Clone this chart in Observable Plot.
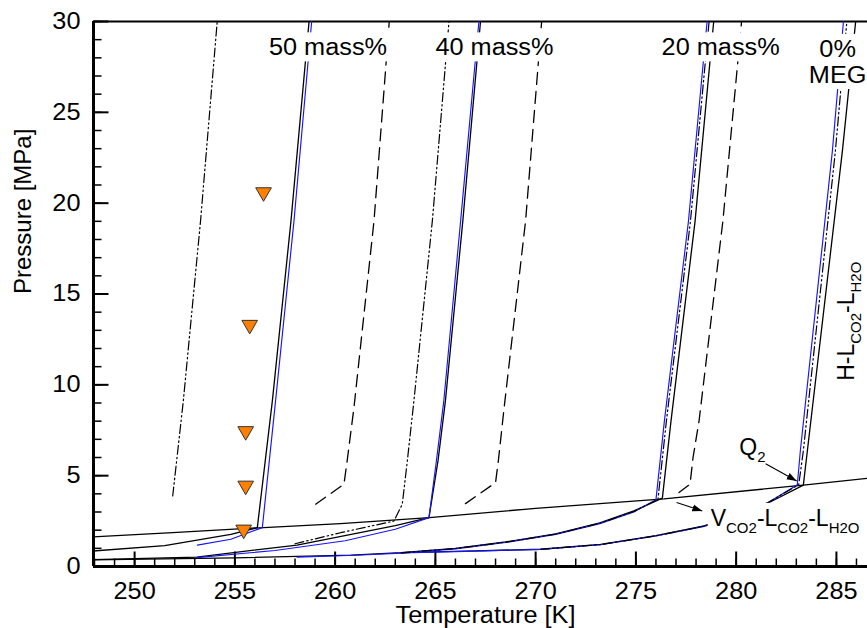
<!DOCTYPE html>
<html>
<head>
<meta charset="utf-8">
<script src="https://cdn.jsdelivr.net/npm/d3@7"></script>
<script src="https://cdn.jsdelivr.net/npm/@observablehq/plot@0.6"></script>
<style>
  html, body { margin: 0; padding: 0; background: #fff; }
  #chart svg { display: block; }
</style>
</head>
<body>
<div id="chart"></div>
<script>
// ---- axes ----
const xDomain = [247.95, 286.55];
const yDomain = [0, 30];
const xMajor = [250, 255, 260, 265, 270, 275, 280, 285];
const xMinor = d3.range(248, 287, 1);
const yMajor = [0, 5, 10, 15, 20, 25, 30];
const yMinor = d3.range(0, 31, 1);

// ---- CO2 three-phase line V(CO2)-L(CO2)-L(H2O), [T K, P MPa] ----
const vll = [[247.9,1.63],[251.9,1.86],[256.2,2.13],[260.27,2.36],[264.7,2.69],[270,3.2],[276.4,3.72],[283.35,4.48],[286.6,4.86]];

// ---- hydrate equilibrium, model A (black solid) ----
const black50 = [[247.9,0.85],[251.5,1.15],[254.8,1.77],[256.12,2.14],[256.87,9.12],[257.8,19.04],[258.7,30]];
const black40 = [[247.9,0.38],[253.1,0.52],[258.1,1.18],[260.8,1.77],[263,2.25],[264.68,2.69],[265.13,5.81],[265.5,9.12],[266.37,19.04],[267.25,30]];
const black20 = [[247.9,0.36],[255,0.48],[260.8,0.63],[263.3,0.76],[266,1.0],[268.5,1.35],[271,1.8],[273.2,2.4],[274.9,3.06],[276.32,3.76],[276.75,8.0],[277.95,19.0],[278.88,30]];
const black0  = [[263.3,0.76],[267,0.86],[270.25,0.95],[273.24,1.22],[276,1.7],[278.4,2.23],[280,2.8],[281.7,3.55],[283.35,4.48],[283.55,6.36],[285.3,22.89],[285.96,30]];

// ---- model B (blue solid) ----
const blue50 = [[253.13,1.18],[254.8,1.5],[256.37,2.14],[257.03,9.12],[257.95,19.04],[258.83,30]];
const blue40 = [[253.1,0.49],[257,0.88],[260.5,1.42],[263,2.05],[264.68,2.69],[265.05,5.81],[265.42,9.12],[266.26,19.04],[267.17,30]];
const blue20 = [[258.1,0.52],[261,0.62],[263.3,0.74],[266,0.97],[268.5,1.32],[271,1.76],[273.2,2.36],[274.9,3.0],[276.0,3.68],[276.42,8.0],[277.62,19.0],[278.55,30]];
const blue0  = [[263.3,0.75],[267,0.85],[270.25,0.94],[273.24,1.2],[276,1.68],[278.4,2.2],[280,2.75],[281.5,3.45],[283.05,4.5],[283.2,6.36],[284.8,22.89],[285.35,30]];

// ---- model C (dash-dot-dot) ----
const dashdot50 = [[251.9,3.88],[252.43,9.12],[253.29,19.04],[254.12,30]];
const dashdot40 = [[258,1.25],[260.27,1.86],[262.93,2.5],[263.35,3.43],[263.6,5.81],[263.93,9.12],[264.85,19.04],[265.68,30]];
const dashdot20 = [[263.3,0.75],[266,0.99],[268.5,1.34],[271,1.78],[273.2,2.38],[274.9,3.03],[276.1,3.7],[276.52,8.0],[277.72,19.0],[278.65,30]];
const dashdot0  = [[270.25,0.95],[273.24,1.21],[276,1.69],[278.4,2.22],[280,2.78],[281.55,3.5],[283.12,4.5],[283.35,6.36],[284.95,22.89],[285.52,30]];

// ---- model D (dashed) ----
const dashed50 = [[259.03,3.43],[260.44,4.53],[260.6,5.81],[260.94,8.75],[261.94,19.04],[262.7,30]];
const dashed40 = [[266.5,3.46],[268.0,4.62],[268.14,5.81],[268.42,8.66],[269.5,19.04],[270.3,30]];
const dashed20 = [[277.15,4.07],[277.7,4.53],[277.85,6.0],[278.15,8.02],[279.34,19.04],[280.27,30]];

// ---- experimental points, 50 mass% MEG ----
const expT = [256.43, 255.74, 255.54, 255.54, 255.44];
const expP = [20.6, 13.3, 7.45, 4.45, 2.03];

// ---- annotations ----
const massLabels = ["50 mass%", "40 mass%", "20 mass%"];
const massLabelT = [256.7, 265.0, 276.28];
const massLabelP = [28.54, 28.54, 28.54];
const megLabels = ["0%", "MEG"];
const megLabelT = [285.06, 285.06];
const megLabelP = [28.46, 27.02];
const phaseLabels = ["V_{CO2}-L_{CO2}-L_{H2O}", "Q_{2}"];
const phaseLabelT = [278.73, 280.16];
const phaseLabelP = [2.64, 6.56];
const hllLabel = ["H-L_{CO2}-L_{H2O}"];
const hllLabelT = [285.51];
const hllLabelP = [10.22];
const arrowFrom = [[281.47, 5.66], [277.03, 3.52]];
const arrowTo = [[283.02, 4.71], [278.31, 3.06]];

const FONT = "'Liberation Sans', Arial, Helvetica, sans-serif";
const FS = 23;
const W = 867, H = 628, ML = 93, MR = 0, MT = 21, MB = 62;
const frameW = W - ML - MR, frameH = H - MT - MB;
// tick lengths in pixels, expressed in each axis' units
const kx = (xDomain[1] - xDomain[0]) / frameW;
const ky = (yDomain[1] - yDomain[0]) / frameH;

const styles = {
  black: {stroke: "#000", strokeWidth: 1.3},
  blue: {stroke: "#1414ff", strokeWidth: 1.15},
  dashdot: {stroke: "#000", strokeWidth: 1.2, strokeDasharray: "9,3,1.5,3,1.5,3"},
  dashed: {stroke: "#000", strokeWidth: 1.3, strokeDasharray: "12,7"}
};
const curve = (pts, style) => Plot.line(pts, {x: d => d[0], y: d => d[1], clip: true, ...styles[style]});

// inward tick segments
const xTicks = (values, len, sw) => Plot.link(values, {
  x1: d => d, x2: d => d, y1: () => yDomain[0], y2: () => yDomain[0] + len * ky,
  stroke: "#000", strokeWidth: sw
});
const yTicks = (values, len, sw) => Plot.link(values, {
  y1: d => d, y2: d => d, x1: () => xDomain[0], x2: () => xDomain[0] + len * kx,
  stroke: "#000", strokeWidth: sw
});

const svg = Plot.plot({
  width: W,
  height: H,
  marginLeft: ML,
  marginRight: MR,
  marginTop: MT,
  marginBottom: MB,
  x: {domain: xDomain},
  y: {domain: yDomain},
  style: {fontFamily: FONT, fontSize: FS + "px", background: "white", color: "black", overflow: "visible"},
  marks: [
    // frame: thick left and bottom axes, top border
    Plot.ruleY([yDomain[1]], {strokeWidth: 2.2}),
    Plot.ruleY([yDomain[0]], {strokeWidth: 3}),
    Plot.ruleX([xDomain[0]], {strokeWidth: 3}),

    xTicks(xMinor, 8, 1.5),
    xTicks(xMajor, 15, 2),
    yTicks(yMinor, 8, 1.5),
    yTicks(yMajor, 15, 2),
    Plot.axisX(xMajor, {tickSize: 0, tickPadding: 16, label: null}),
    Plot.axisY(yMajor, {tickSize: 0, tickPadding: 13, label: null}),

    curve(vll, "black"),
    curve(black50, "black"), curve(black40, "black"), curve(black20, "black"), curve(black0, "black"),
    curve(blue50, "blue"), curve(blue40, "blue"), curve(blue20, "blue"), curve(blue0, "blue"),
    curve(dashdot50, "dashdot"), curve(dashdot40, "dashdot"), curve(dashdot20, "dashdot"), curve(dashdot0, "dashdot"),
    curve(dashed50, "dashed"), curve(dashed40, "dashed"), curve(dashed20, "dashed"),

    Plot.dot(expT.map((t, i) => [t, expP[i]]), {
      x: d => d[0], y: d => d[1], symbol: "triangle", rotate: 180, r: 5.8,
      fill: "#ff8000", stroke: "#333", strokeWidth: 1
    }),

    Plot.link(arrowFrom.map((f, i) => [f, arrowTo[i]]), {
      x1: d => d[0][0], y1: d => d[0][1], x2: d => d[1][0], y2: d => d[1][1],
      stroke: "#000", strokeWidth: 1.1, markerEnd: "arrow"
    }),

    Plot.text(massLabels, {x: (d, i) => massLabelT[i], y: (d, i) => massLabelP[i], text: d => d, textAnchor: "start", lineAnchor: "middle"}),
    Plot.text(megLabels, {x: (d, i) => megLabelT[i], y: (d, i) => megLabelP[i], text: d => d, textAnchor: "middle", lineAnchor: "middle"}),
    Plot.text(phaseLabels, {x: (d, i) => phaseLabelT[i], y: (d, i) => phaseLabelP[i], text: d => d, textAnchor: "start", lineAnchor: "middle"}),
    Plot.text(hllLabel, {x: (d, i) => hllLabelT[i], y: (d, i) => hllLabelP[i], text: d => d, textAnchor: "start", lineAnchor: "middle", rotate: -90}),

    // axis titles
    Plot.text(["Temperature [K]"], {frameAnchor: "bottom", dx: 5, dy: 40, lineAnchor: "top"}),
    Plot.text(["Pressure [MPa]"], {frameAnchor: "left", dx: -70, rotate: -90, lineAnchor: "middle", fontSize: 24})
  ]
});

document.getElementById("chart").appendChild(svg);

// horizontal lettering is set slightly wide
const wide = new Set(["50 mass%", "40 mass%", "20 mass%", "0%", "MEG", "Temperature [K]", ...xMajor.map(String), ...yMajor.map(String)]);
d3.select(svg).selectAll("text").each(function () {
  if (!wide.has(this.textContent) || this.querySelector("tspan")) return;
  const len = this.getComputedTextLength();
  this.setAttribute("textLength", (len * 1.1).toFixed(2));
  this.setAttribute("lengthAdjust", "spacingAndGlyphs");
});

// subscripts: "_{...}" becomes a lowered, smaller tspan
const boxed = new Set(["50 mass%", "40 mass%", "20 mass%", "0%", "MEG", "V_{CO2}-L_{CO2}-L_{H2O}"]);
const boxNodes = [];
d3.select(svg).selectAll("text").each(function () {
  const s = this.textContent;
  if (boxed.has(s)) boxNodes.push(this);
  if (!s.includes("_{")) return;
  const parts = s.split(/(_\{[^}]*\})/).filter(p => p);
  const t = d3.select(this);
  t.text(null);
  let sub = false;
  for (const p of parts) {
    if (p.startsWith("_{")) {
      t.append("tspan").attr("font-size", 15).attr("dy", sub ? 0 : 7).text(p.slice(2, -1));
      sub = true;
    } else {
      t.append("tspan").attr("dy", sub ? -7 : 0).text(p);
      sub = false;
    }
  }
});

// white boxes behind in-plot labels
for (const node of boxNodes) {
  const b = node.getBBox();
  const r = document.createElementNS("http://www.w3.org/2000/svg", "rect");
  r.setAttribute("x", b.x - 3);
  r.setAttribute("y", b.y - 2);
  r.setAttribute("width", b.width + 6);
  r.setAttribute("height", b.height + 3);
  r.setAttribute("fill", "white");
  const tr = node.getAttribute("transform");
  if (tr) r.setAttribute("transform", tr);
  node.parentNode.insertBefore(r, node);
}

// filled arrow heads
d3.select(svg).selectAll("marker")
  .attr("markerUnits", "userSpaceOnUse")
  .attr("viewBox", "-10 -4 10 8")
  .attr("markerWidth", 10)
  .attr("markerHeight", 8)
  .attr("fill", "#000")
  .attr("stroke", "none")
  .select("path")
  .attr("d", "M-10,-3.5L0,0L-10,3.5Z");
</script>
</body>
</html>
